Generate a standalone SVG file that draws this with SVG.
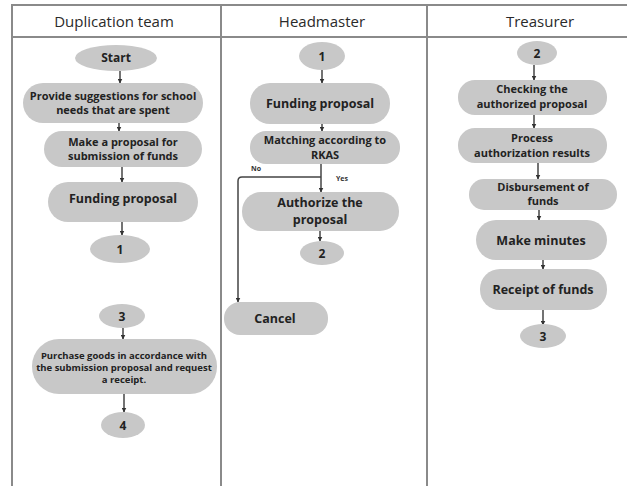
<svg xmlns="http://www.w3.org/2000/svg" width="627" height="486" viewBox="0 0 627 486">
<defs>
<marker id="ah" viewBox="0 0 10 10" refX="9" refY="5" markerWidth="5" markerHeight="5" orient="auto" markerUnits="userSpaceOnUse">
<path d="M0,0 L10,5 L0,10 z" fill="#333"/>
</marker>
<style>
.frame{stroke:#8a8a8a;stroke-width:2;fill:none}
.hdr{font-family:"Open Sans","Liberation Sans",sans-serif;font-size:15px;fill:#2a2a2a;text-anchor:middle}
.n{fill:#c8c8c8}
.t{font-family:"Open Sans","Liberation Sans",sans-serif;font-weight:bold;fill:#222;text-anchor:middle}
.s11{font-size:11px}
.s12{font-size:12px}
.s13{font-size:12.5px}
.s9{font-size:9.5px}
.lbl{font-family:"Open Sans","Liberation Sans",sans-serif;font-weight:bold;font-size:7px;fill:#333}
.c{stroke:#444;stroke-width:1.5;fill:none;marker-end:url(#ah)}
</style>
</defs>
<g id="frame">
<line class="frame" x1="12" y1="5" x2="627" y2="5"/>
<line class="frame" x1="12" y1="37" x2="627" y2="37"/>
<line class="frame" x1="12" y1="4" x2="12" y2="486"/>
<line class="frame" x1="221" y1="4" x2="221" y2="486"/>
<line class="frame" x1="427" y1="4" x2="427" y2="486"/>
<text class="hdr" x="114" y="27">Duplication team</text>
<text class="hdr" x="322" y="27">Headmaster</text>
<text class="hdr" x="540" y="27">Treasurer</text>
</g>
<g id="connectors">
<line class="c" x1="120" y1="71" x2="120" y2="83"/>
<line class="c" x1="119" y1="123" x2="119" y2="131"/>
<line class="c" x1="122" y1="167" x2="122" y2="182"/>
<line class="c" x1="122" y1="222" x2="122" y2="235"/>
<line class="c" x1="123" y1="328" x2="123" y2="339"/>
<line class="c" x1="124" y1="394" x2="124" y2="412"/>
<line class="c" x1="322" y1="70" x2="322" y2="83"/>
<line class="c" x1="322" y1="124" x2="322" y2="131"/>
<line class="c" x1="321" y1="164" x2="321" y2="192"/>
<path class="c" d="M321,177 L242,177 Q238,177 238,181 L238,302"/>
<line class="c" x1="320" y1="231" x2="320" y2="241"/>
<line class="c" x1="534" y1="65" x2="534" y2="80"/>
<line class="c" x1="534" y1="115" x2="534" y2="128"/>
<line class="c" x1="538" y1="163" x2="538" y2="179"/>
<line class="c" x1="539" y1="210" x2="539" y2="220"/>
<line class="c" x1="543" y1="260" x2="543" y2="269"/>
<line class="c" x1="543" y1="310" x2="543" y2="325"/>
<text class="lbl" x="251" y="171">No</text>
<text class="lbl" x="336" y="181">Yes</text>
</g>
<g id="start"><ellipse class="n" cx="116" cy="58" rx="41" ry="13"/><text class="t s12" x="116" y="62">Start</text></g>
<g id="provide"><rect class="n" x="23" y="83" width="180" height="40" rx="20"/><text class="t s11" x="113" y="100">Provide suggestions for school</text><text class="t s11" x="113" y="114">needs that are spent</text></g>
<g id="make-proposal"><rect class="n" x="44" y="131" width="158" height="36" rx="18"/><text class="t s11" x="123" y="146">Make a proposal for</text><text class="t s11" x="123" y="160">submission of funds</text></g>
<g id="funding1"><rect class="n" x="48" y="182" width="150" height="40" rx="20"/><text class="t s13" x="123" y="203">Funding proposal</text></g>
<g id="conn1a"><ellipse class="n" cx="120" cy="249" rx="30" ry="14"/><text class="t s12" x="120" y="254">1</text></g>
<g id="conn3a"><ellipse class="n" cx="122" cy="316" rx="23" ry="12"/><text class="t s12" x="122" y="321">3</text></g>
<g id="purchase"><rect class="n" x="32" y="339" width="185" height="55" rx="27"/><text class="t s9" x="124" y="359">Purchase goods in accordance with</text><text class="t s9" x="124" y="371">the submission proposal and request</text><text class="t s9" x="124" y="383">a receipt.</text></g>
<g id="conn4"><ellipse class="n" cx="123" cy="425" rx="22" ry="13"/><text class="t s12" x="123" y="430">4</text></g>
<g id="conn1b"><ellipse class="n" cx="322" cy="56" rx="23" ry="14"/><text class="t s12" x="322" y="61">1</text></g>
<g id="funding2"><rect class="n" x="250" y="83" width="140" height="41" rx="20"/><text class="t s13" x="320" y="108">Funding proposal</text></g>
<g id="matching"><rect class="n" x="250" y="131" width="150" height="33" rx="16"/><text class="t s11" x="325" y="144">Matching according to</text><text class="t s11" x="325" y="159">RKAS</text></g>
<g id="authorize"><rect class="n" x="242" y="192" width="157" height="39" rx="19"/><text class="t s13" x="320" y="207">Authorize the</text><text class="t s13" x="320" y="224">proposal</text></g>
<g id="conn2a"><ellipse class="n" cx="322" cy="253" rx="22" ry="12"/><text class="t s12" x="322" y="258">2</text></g>
<g id="cancel"><rect class="n" x="224" y="302" width="104" height="33" rx="16"/><text class="t s13" x="275" y="323">Cancel</text></g>
<g id="conn2b"><ellipse class="n" cx="537" cy="53" rx="20" ry="12"/><text class="t s12" x="537" y="58">2</text></g>
<g id="checking"><rect class="n" x="458" y="80" width="149" height="35" rx="17"/><text class="t s11" x="532" y="93">Checking the</text><text class="t s11" x="532" y="108">authorized proposal</text></g>
<g id="process"><rect class="n" x="458" y="128" width="149" height="35" rx="17"/><text class="t s11" x="532" y="142">Process</text><text class="t s11" x="532" y="157">authorization results</text></g>
<g id="disbursement"><rect class="n" x="469" y="179" width="148" height="31" rx="15"/><text class="t s11" x="543" y="191">Disbursement of</text><text class="t s11" x="543" y="205">funds</text></g>
<g id="minutes"><rect class="n" x="476" y="220" width="131" height="40" rx="20"/><text class="t s13" x="541" y="245">Make minutes</text></g>
<g id="receipt"><rect class="n" x="480" y="269" width="127" height="41" rx="20"/><text class="t s13" x="543" y="294">Receipt of funds</text></g>
<g id="conn3b"><ellipse class="n" cx="543" cy="336" rx="23" ry="12"/><text class="t s12" x="543" y="341">3</text></g>
</svg>
